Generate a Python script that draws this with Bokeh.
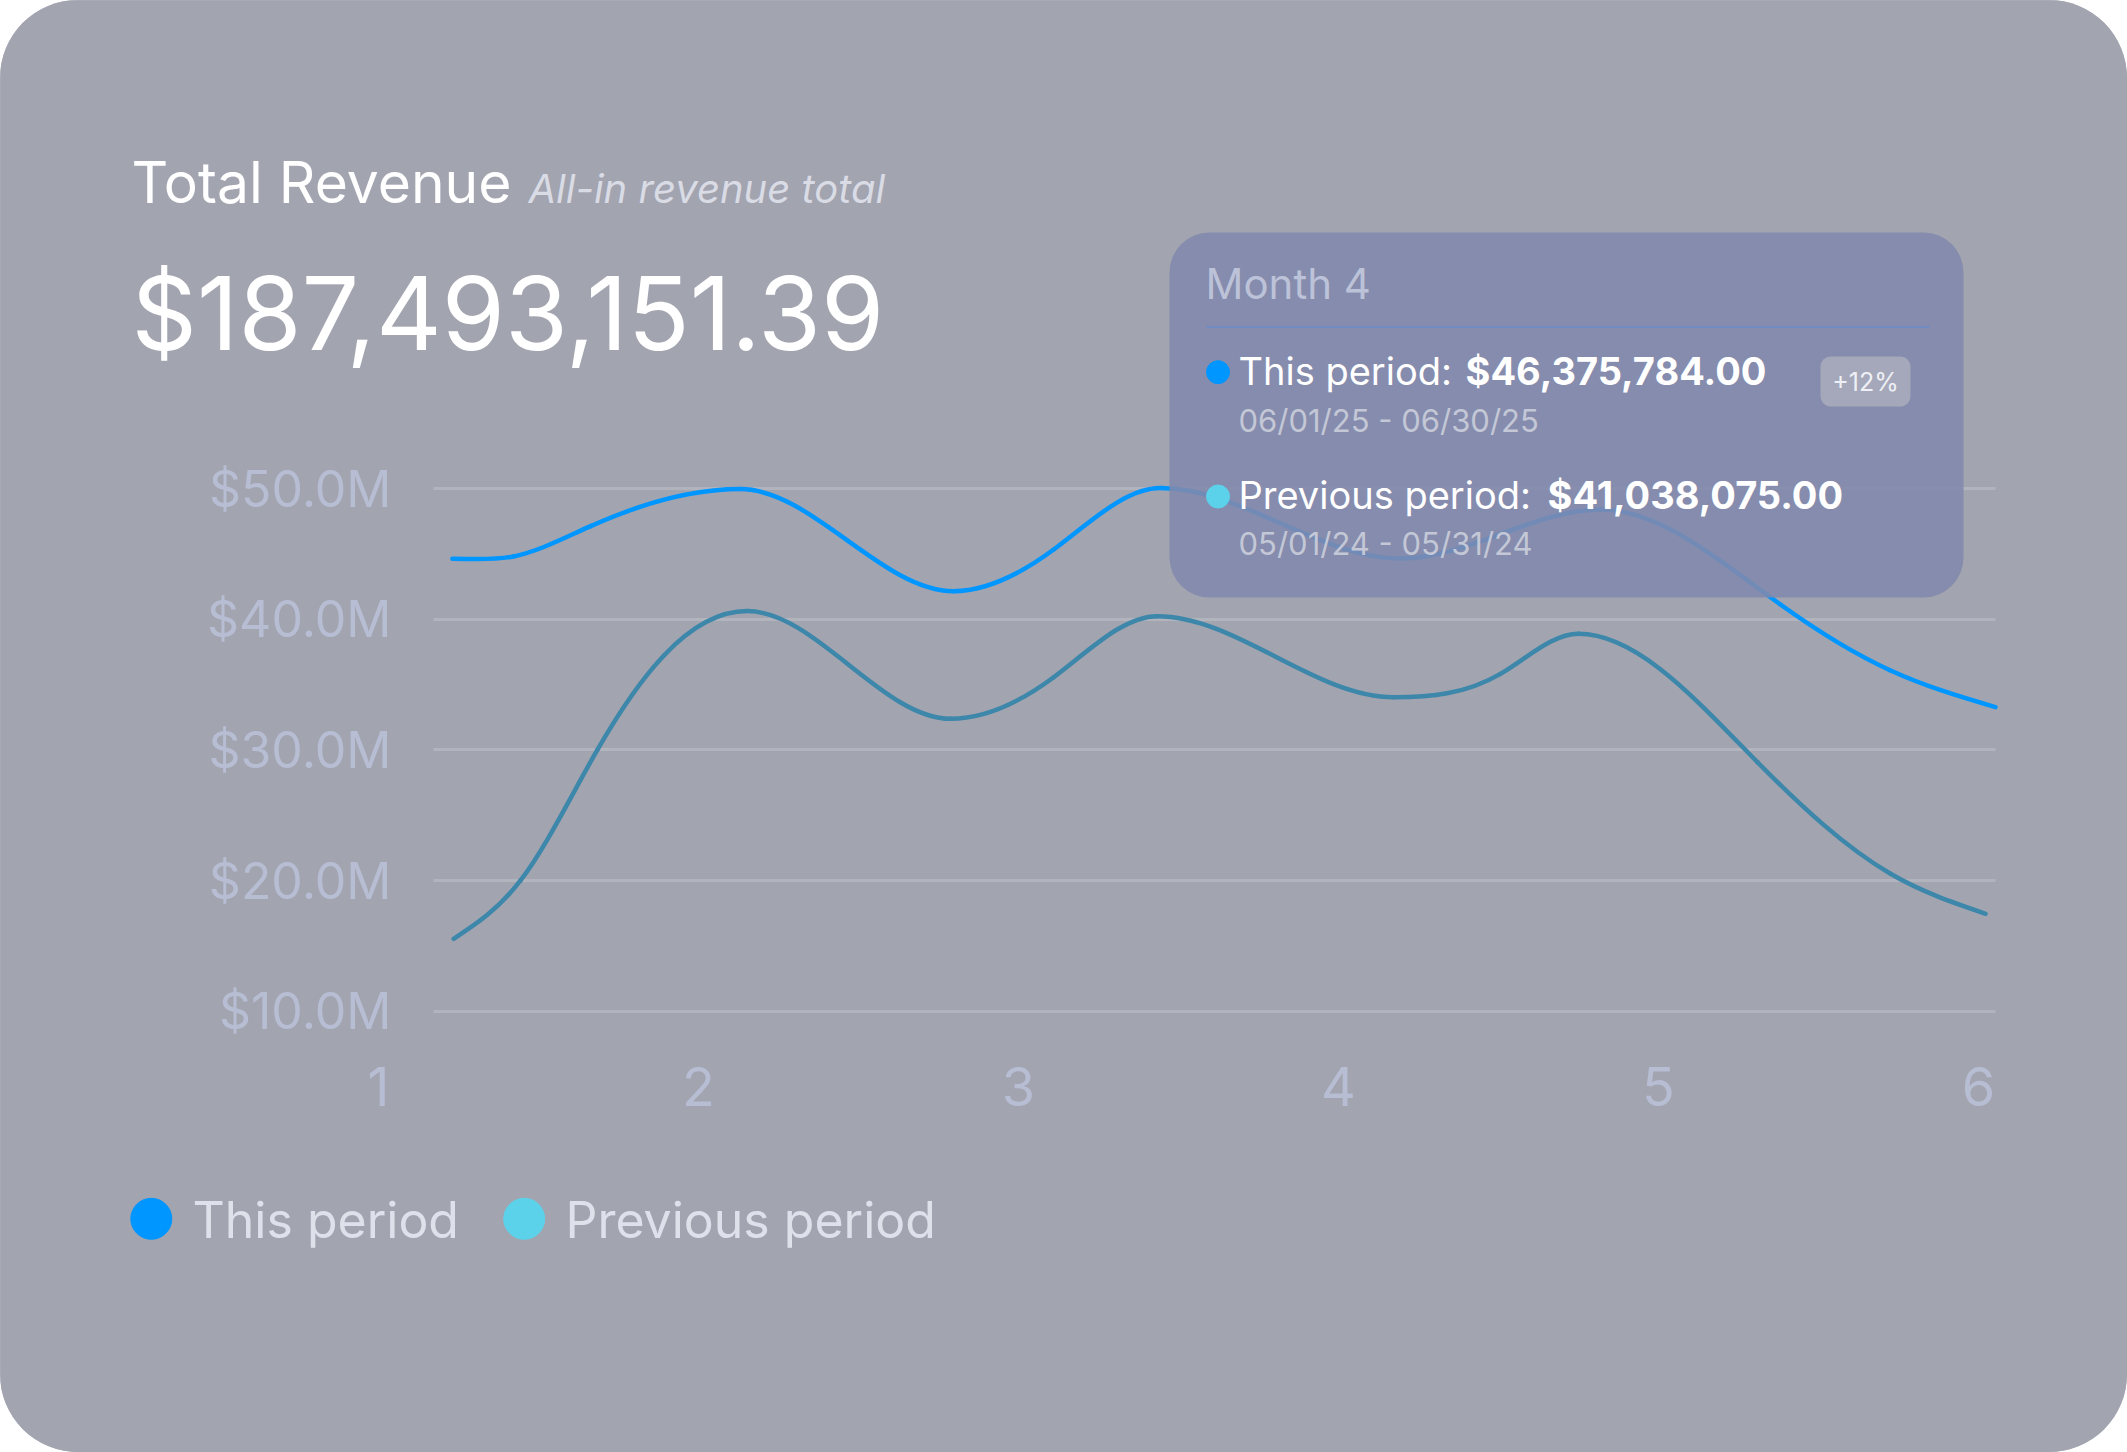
import numpy as np
from bokeh.plotting import figure
from bokeh.models import (Range1d, FixedTicker, PrintfTickFormatter, Label,
                          ColumnDataSource, BoxAnnotation, LinearAxis)
from bokeh.embed import file_html
from bokeh.resources import INLINE

# ---------------- data ----------------
month_ticks = [1, 2, 3, 4, 5, 6]
y_ticks = [10, 20, 30, 40, 50]          # $ millions

this_x = [1.231, 1.422, 1.663, 2.131, 2.797, 3.110, 3.444, 4.194, 4.819, 5.381, 5.725, 6.053]
this_y = [44.64, 44.82, 47.14, 49.98, 42.16, 45.35, 50.06, 44.66, 48.41, 41.14, 36.09, 33.28]

prev_x = [1.235, 1.444, 1.684, 1.892, 2.152, 2.788, 3.110, 3.434, 4.173, 4.506, 4.750, 5.309, 5.725, 6.022]
prev_y = [15.54, 20.01, 30.01, 37.24, 40.64, 32.39, 35.57, 40.25, 34.04, 35.83, 38.90, 29.07, 20.52, 17.46]

title_text = "Total Revenue"
subtitle_text = "All-in revenue total"
total_text = "$187,493,151.39"
tip_month = "Month 4"
tip_this_label, tip_this_value, tip_this_dates = "This period:", "$46,375,784.00", "06/01/25 - 06/30/25"
tip_prev_label, tip_prev_value, tip_prev_dates = "Previous period:", "$41,038,075.00", "05/01/24 - 05/31/24"
tip_change = "+12%"
series_names = ["This period", "Previous period"]

# ---------------- styles / layout ----------------
CARD = "#a2a4b0"
BLUE = "#0096ff"
CYAN = "#5cd2ea"
PREV_LINE = "#3c87aa"
AXIS_TXT = "#b7bdd3"
GRID = "#b1b3bd"
FONT = "Inter"
BASELINE_SHIFT = 0.37   # alphabetic-baseline correction (em) for SVG text

W, H = 2127, 1452
# chart area on the page (px) and the data values at its edges
CH_L, CH_R, CH_T, CH_B = 433, 1995, 460, 1030
X_L, X_R = 1.172, 6.053
Y_T, Y_B = 52.167, 8.522
kx = (CH_R - CH_L) / (X_R - X_L)
ky = (CH_B - CH_T) / (Y_T - Y_B)
x_range = Range1d(X_L - CH_L / kx, X_L + (W - CH_L) / kx)
y_range = Range1d(Y_T - (H - CH_T) / ky, Y_T + CH_T / ky)


def spline_tangents(x, y):
    """C2 cubic tangents, flat at local extremes, natural ends."""
    x = np.asarray(x, float)
    y = np.asarray(y, float)
    n = len(x)
    h = np.diff(x)
    s = np.diff(y) / h
    A = np.zeros((n, n))
    b = np.zeros(n)
    A[0, 0], A[0, 1], b[0] = 2, 1, 3 * s[0]
    A[-1, -2], A[-1, -1], b[-1] = 1, 2, 3 * s[-1]
    for i in range(1, n - 1):
        if s[i - 1] * s[i] <= 0:
            A[i, i] = 1
        else:
            A[i, i - 1] = 1 / h[i - 1]
            A[i, i] = 2 / h[i - 1] + 2 / h[i]
            A[i, i + 1] = 1 / h[i]
            b[i] = 3 * s[i - 1] / h[i - 1] + 3 * s[i] / h[i]
    m = np.linalg.solve(A, b)
    if np.sign(m[0]) != np.sign(s[0]):
        m[0] = 0.0
    if np.sign(m[-1]) != np.sign(s[-1]):
        m[-1] = 0.0
    return m


def bezier_source(x, y):
    x = np.asarray(x, float)
    y = np.asarray(y, float)
    m = spline_tangents(x, y)
    h = np.diff(x)
    return ColumnDataSource(dict(
        x0=x[:-1], y0=y[:-1], x1=x[1:], y1=y[1:],
        cx0=x[:-1] + h / 3, cy0=y[:-1] + m[:-1] * h / 3,
        cx1=x[1:] - h / 3, cy1=y[1:] - m[1:] * h / 3,
    ))


p = figure(width=W, height=H, output_backend="svg", toolbar_location=None,
           x_range=x_range, y_range=y_range,
           x_axis_location=None, y_axis_location=None, min_border=0)
p.extra_x_ranges = {"px": Range1d(0, W)}
p.extra_y_ranges = {"py": Range1d(H, 0)}
p.xgrid.visible = False
p.ygrid.visible = False
p.background_fill_color = CARD
p.border_fill_color = CARD
p.outline_line_color = None
p.styles = {"border-radius": "78px", "overflow": "hidden",
            "outline": "3px solid #afb1bb", "outline-offset": "-3px"}

# y axis: labels left of the chart, long inward ticks act as grid lines
yaxis = LinearAxis(fixed_location=X_L, ticker=FixedTicker(ticks=y_ticks),
                   formatter=PrintfTickFormatter(format="$%.1fM"),
                   axis_line_color=None, minor_tick_line_color=None,
                   major_tick_in=CH_R - CH_L, major_tick_out=0,
                   major_tick_line_color=GRID, major_tick_line_width=3,
                   major_label_standoff=42, major_label_text_font=FONT,
                   major_label_text_font_size="50px", major_label_text_color=AXIS_TXT,
                   level="underlay")
p.add_layout(yaxis, "left")

xaxis = LinearAxis(fixed_location=y_ticks[0], ticker=FixedTicker(ticks=month_ticks),
                   axis_line_color=None, minor_tick_line_color=None,
                   major_tick_line_color=None, major_tick_in=0, major_tick_out=0,
                   major_label_standoff=56, major_label_text_font=FONT,
                   major_label_text_font_size="54px", major_label_text_color=AXIS_TXT,
                   level="underlay")
p.add_layout(xaxis, "below")

# lines
p.bezier(x0="x0", y0="y0", x1="x1", y1="y1", cx0="cx0", cy0="cy0", cx1="cx1", cy1="cy1",
         source=bezier_source(prev_x, prev_y), line_color=PREV_LINE, line_width=4.5, line_cap="round")
p.bezier(x0="x0", y0="y0", x1="x1", y1="y1", cx0="cx0", cy0="cy0", cx1="cx1", cy1="cy1",
         source=bezier_source(this_x, this_y), line_color=BLUE, line_width=4.5, line_cap="round")


def txt(x, base, s, size, color, style="normal", align="left"):
    """Place text by its alphabetic baseline (page px)."""
    p.add_layout(Label(x=x, y=base - BASELINE_SHIFT * size, text=s,
                       x_range_name="px", y_range_name="py",
                       text_font=FONT, text_font_size=f"{size}px", text_color=color,
                       text_font_style=style, text_align=align, text_baseline="alphabetic"))


def box(l, r, t, b, color, alpha=1.0, radius=0):
    p.add_layout(BoxAnnotation(left=l, right=r, top=t, bottom=b,
                               x_range_name="px", y_range_name="py",
                               fill_color=color, fill_alpha=alpha, line_color=None,
                               border_radius=radius))


# header
txt(131, 203, title_text, 57, "#ffffff")
txt(528, 203, subtitle_text, 40, "#d9dbe5", style="italic")
txt(131, 350, total_text, 102, "#ffffff")

# tooltip
box(1169, 1963, 232, 597, "#8189ac", 0.88, 40)
box(1206, 1929, 325.5, 327.5, "#6d8cc6", 0.8)
box(1820, 1910, 356, 406, "#a5a8ba", 1.0, 10)
txt(1205, 298.5, tip_month, 42, "#bcc2d8")
txt(1238, 385, tip_this_label, 38, "#ffffff")
txt(1465, 385, tip_this_value, 38, "#ffffff", style="bold")
txt(1238, 431, tip_this_dates, 31, "#c3c7d6")
p.add_layout(Label(x=1865, y=381, text=tip_change, x_range_name="px", y_range_name="py",
                   text_font=FONT, text_font_size="25px", text_color="#eef0f5",
                   text_align="center", text_baseline="middle"))
txt(1238, 508.5, tip_prev_label, 38, "#ffffff")
txt(1547, 508.5, tip_prev_value, 38, "#ffffff", style="bold")
txt(1238, 554.5, tip_prev_dates, 31, "#c3c7d6")

# legend
txt(192, 1237.5, series_names[0], 50, "#dfe1ea")
txt(565, 1237.5, series_names[1], 50, "#dfe1ea")

# dots (tooltip + legend markers)
p.scatter(x=[1217.5, 150.8], y=[371.7, 1218.3], size=[23, 41], color=BLUE,
          x_range_name="px", y_range_name="py", level="overlay")
p.scatter(x=[1217.5, 523.7], y=[496, 1218.3], size=[23, 41], color=CYAN,
          x_range_name="px", y_range_name="py", level="overlay")

open("out.html", "w").write(file_html(p, INLINE))
